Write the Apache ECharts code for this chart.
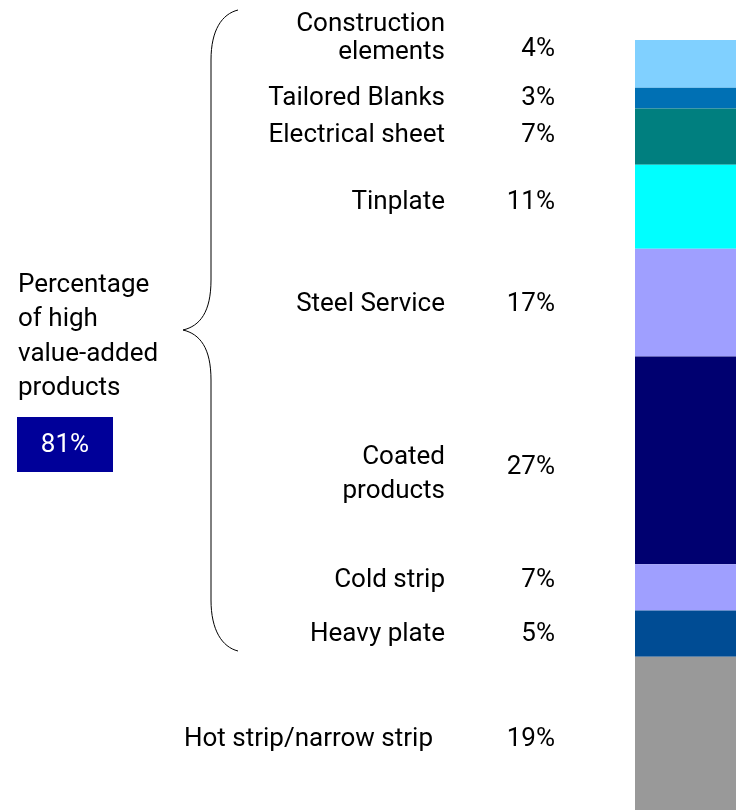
<!DOCTYPE html>
<html>
<head>
<meta charset="utf-8">
<script src="https://cdn.jsdelivr.net/npm/echarts@6/dist/echarts.min.js"></script>
<style>
  html, body { margin: 0; padding: 0; background: #fff; }
  #chart { width: 736px; height: 810px; }
</style>
</head>
<body>
<div id="chart"></div>
<script>
// product groups, top to bottom
const products = ['Construction\nelements', 'Tailored Blanks', 'Electrical sheet', 'Tinplate', 'Steel Service', 'Coated\nproducts', 'Cold strip', 'Heavy plate', 'Hot strip/narrow strip']
// printed shares (%)
const shares = [4, 3, 7, 11, 17, 27, 7, 5, 19]
// segment heights as drawn in the bar (%)
const barSizes = [6.2, 2.7, 7.3, 10.9, 14.0, 27.0, 6.0, 6.0, 19.9]
// the first 8 groups count as high value-added
const highValueCount = 8

const colors = ['#80D0FF', '#0070B4', '#007F7F', '#00FFFF', '#9F9FFF', '#000070', '#9F9FFF', '#004C94', '#999999']
// nudges of the labels against segment centres (px)
const nameShift = [[0, -25], [0, 0], [0, -1], [0, -4], [0, 2], [0, 14], [0, -7], [0, 1], [-12, 6]]
const pctShift = [-14, 0, -1, -4, 2, 7, -7, 1, 6]

const FONT = 'Roboto'
const FS = 26

const chart = echarts.init(document.getElementById('chart'))

const highValue = shares.slice(0, highValueCount).reduce((a, b) => a + b, 0)

const nameSeries = products.map((name, i) => ({
  name: name,
  type: 'bar',
  stack: 'names',
  barWidth: 101,
  barGap: '-100%',
  silent: true,
  itemStyle: { color: colors[i] },
  label: {
    show: true,
    position: 'left',
    distance: 190,
    offset: nameShift[i],
    align: 'right',
    formatter: () => name,
    fontFamily: FONT,
    fontSize: FS,
    lineHeight: i === 5 ? 34 : 28,
    color: '#000'
  },
  data: [barSizes[i]]
}))

const pctSeries = products.map((name, i) => ({
  name: name + ' %',
  type: 'bar',
  stack: 'pct',
  barWidth: 101,
  barGap: '-100%',
  silent: true,
  itemStyle: { color: 'transparent' },
  label: {
    show: true,
    position: 'left',
    distance: 80,
    offset: [0, pctShift[i]],
    formatter: shares[i] + '%',
    fontFamily: FONT,
    fontSize: FS,
    color: '#000'
  },
  data: [barSizes[i]]
}))

// curly brace round the high value-added groups
const braceStyle = { fill: 'none', stroke: '#000', lineWidth: 1 }
const brace = [
  { type: 'bezierCurve', shape: { x1: 238, y1: 10, cpx1: 222, cpy1: 14, cpx2: 211, cpy2: 30, x2: 211, y2: 60 }, style: braceStyle },
  { type: 'line', shape: { x1: 211, y1: 60, x2: 211, y2: 280 }, style: braceStyle },
  { type: 'bezierCurve', shape: { x1: 211, y1: 280, cpx1: 211, cpy1: 312, cpx2: 200, cpy2: 326, x2: 183, y2: 330 }, style: braceStyle },
  { type: 'bezierCurve', shape: { x1: 183, y1: 330, cpx1: 200, cpy1: 334, cpx2: 211, cpy2: 348, x2: 211, y2: 380 }, style: braceStyle },
  { type: 'line', shape: { x1: 211, y1: 380, x2: 211, y2: 600 }, style: braceStyle },
  { type: 'bezierCurve', shape: { x1: 211, y1: 600, cpx1: 211, cpy1: 630, cpx2: 222, cpy2: 647, x2: 238, y2: 651 }, style: braceStyle }
]

const option = {
  animation: false,
  grid: { left: 635, right: 0, top: 40, bottom: 0 },
  xAxis: { type: 'category', data: ['mix'], show: false },
  yAxis: { type: 'value', min: 0, max: 100, inverse: true, show: false },
  series: nameSeries.concat(pctSeries),
  graphic: brace.concat([
    {
      type: 'text',
      left: 18,
      top: 268,
      style: {
        text: 'Percentage\nof high\nvalue-added\nproducts',
        font: FS + 'px ' + FONT,
        lineHeight: 34.5,
        fill: '#000'
      }
    },
    {
      type: 'rect',
      shape: { x: 17, y: 417, width: 96, height: 55 },
      style: { fill: '#000099' }
    },
    {
      type: 'text',
      x: 65,
      y: 445,
      style: {
        text: highValue + '%',
        font: FS + 'px ' + FONT,
        fill: '#fff',
        align: 'center',
        verticalAlign: 'middle'
      }
    }
  ])
}

chart.setOption(option)
</script>
</body>
</html>
